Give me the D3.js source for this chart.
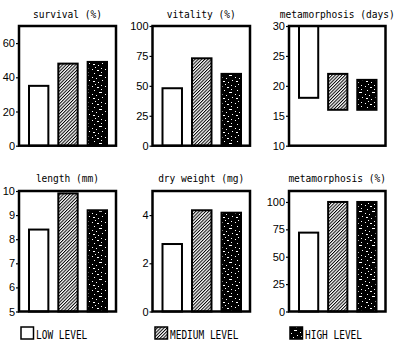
<!DOCTYPE html>
<html><head><meta charset="utf-8">
<script src="https://cdn.jsdelivr.net/npm/d3@7/dist/d3.min.js"></script>
<style>body{margin:0;background:#fff}svg{display:block}</style>
</head><body>
<script>
// ---- data ----
const levels = ["LOW LEVEL", "MEDIUM LEVEL", "HIGH LEVEL"];
const panelTitles = ["survival (%)", "vitality (%)", "metamorphosis (days)", "length (mm)", "dry weight (mg)", "metamorphosis (%)"];
const lowLevel    = [35, 48, 18, 8.4, 2.8, 72];
const mediumLevel = [48, 73, 22, 9.9, 4.2, 100];
const highLevel   = [49, 60, 21, 9.2, 4.1, 100];
// metamorphosis (days) bars float: from value to this base (upper end for LOW clipped at 30)
const daysBase = [30, 16, 16];
const axisMin = [0, 0, 10, 5, 0, 0];
const axisMax = [70, 100, 30, 10, 5, 110];
const tickValues = [[0, 20, 40, 60], [0, 25, 50, 75, 100], [10, 15, 20, 25, 30], [5, 6, 7, 8, 9, 10], [0, 2, 4], [0, 25, 50, 75, 100]];

// ---- layout ----
const W = 400, H = 349;
const svg = d3.select("body").append("svg").attr("width", W).attr("height", H);
const defs = svg.append("defs");
const hatch = defs.append("pattern").attr("id", "hatch").attr("patternUnits", "userSpaceOnUse")
  .attr("width", 2.3).attr("height", 10).attr("patternTransform", "rotate(45)");
hatch.append("rect").attr("width", 2.3).attr("height", 10).attr("fill", "#fff");
hatch.append("line").attr("x1", 0.5).attr("x2", 0.5).attr("y1", 0).attr("y2", 10).attr("stroke", "#000").attr("stroke-width", 1);
const speck = defs.append("pattern").attr("id", "speck").attr("patternUnits", "userSpaceOnUse").attr("width", 13).attr("height", 17);
speck.append("rect").attr("width", 13).attr("height", 17).attr("fill", "#000");
[[1,1,1,1],[6,2,2,1],[10,4,1,1],[3,5,1,1],[8,7,3,1],[1,9,1,1],[5,10,1,1],[11,12,1,1],[2,13,2,1],[7,14,1,1],[4,16,1,1],[10,0,1,1]].forEach(d =>
  speck.append("rect").attr("x", d[0]).attr("y", d[1]).attr("width", d[2]).attr("height", d[3]).attr("fill", "#fff"));
const fills = ["#fff", "url(#hatch)", "url(#speck)"];

const cols = [[19, 116], [152.5, 250], [289, 385.5]];
const rows = [[26, 145.7], [191, 311.5]];
const titleY = [18, 182];

panelTitles.forEach((title, i) => {
  const [x0, x1] = cols[i % 3];
  const [y0, y1] = rows[Math.floor(i / 3)];
  const g = svg.append("g");
  const y = d3.scaleLinear().domain([axisMin[i], axisMax[i]]).range([y1, y0]);
  const x = d3.scaleBand().domain(levels).range([x0 + 10, x1 - 9]).paddingInner(0.34);
  const vals = [lowLevel[i], mediumLevel[i], highLevel[i]];
  const bars = levels.map((l, k) => {
    const base = (i === 2) ? daysBase[k] : axisMin[i];
    return {l, k, top: Math.max(vals[k], base), bot: Math.min(vals[k], base)};
  });
  g.selectAll("rect.bar").data(bars).join("rect").attr("class", "bar")
    .attr("x", d => x(d.l)).attr("width", x.bandwidth())
    .attr("y", d => y(d.top)).attr("height", d => y(d.bot) - y(d.top))
    .attr("fill", d => fills[d.k]).attr("stroke", "#000").attr("stroke-width", 2);
  g.append("rect").attr("x", x0).attr("y", y0).attr("width", x1 - x0).attr("height", y1 - y0)
    .attr("fill", "none").attr("stroke", "#000").attr("stroke-width", 2.5);
  const ax = g.append("g").attr("transform", `translate(${x0},0)`)
    .call(d3.axisLeft(y).tickValues(tickValues[i]).tickSize(3).tickPadding(1).tickFormat(d3.format("d")));
  ax.select(".domain").remove();
  ax.selectAll("line").attr("stroke-width", 1.2);
  ax.selectAll("text").attr("font-family", "Liberation Sans, Arial, sans-serif").attr("font-size", 11).attr("fill", "#000");
  g.append("text").attr("x", (x0 + x1) / 2).attr("y", titleY[Math.floor(i / 3)]).attr("text-anchor", "middle")
    .attr("font-family", "DejaVu Sans Mono, monospace").attr("font-size", 10).attr("textLength", title.length * 5.75)
    .attr("lengthAdjust", "spacingAndGlyphs").text(title);
});

// ---- legend ----
const legX = [21, 155, 290];
levels.forEach((l, k) => {
  svg.append("rect").attr("x", legX[k]).attr("y", 327).attr("width", 12.5).attr("height", 12)
    .attr("fill", fills[k]).attr("stroke", "#000").attr("stroke-width", 1.5);
  svg.append("text").attr("x", legX[k] + 15).attr("y", 338.5)
    .attr("font-family", "DejaVu Sans Mono, monospace").attr("font-size", 12)
    .attr("textLength", l.length * 5.7).attr("lengthAdjust", "spacingAndGlyphs").text(l);
});
</script>
</body></html>
